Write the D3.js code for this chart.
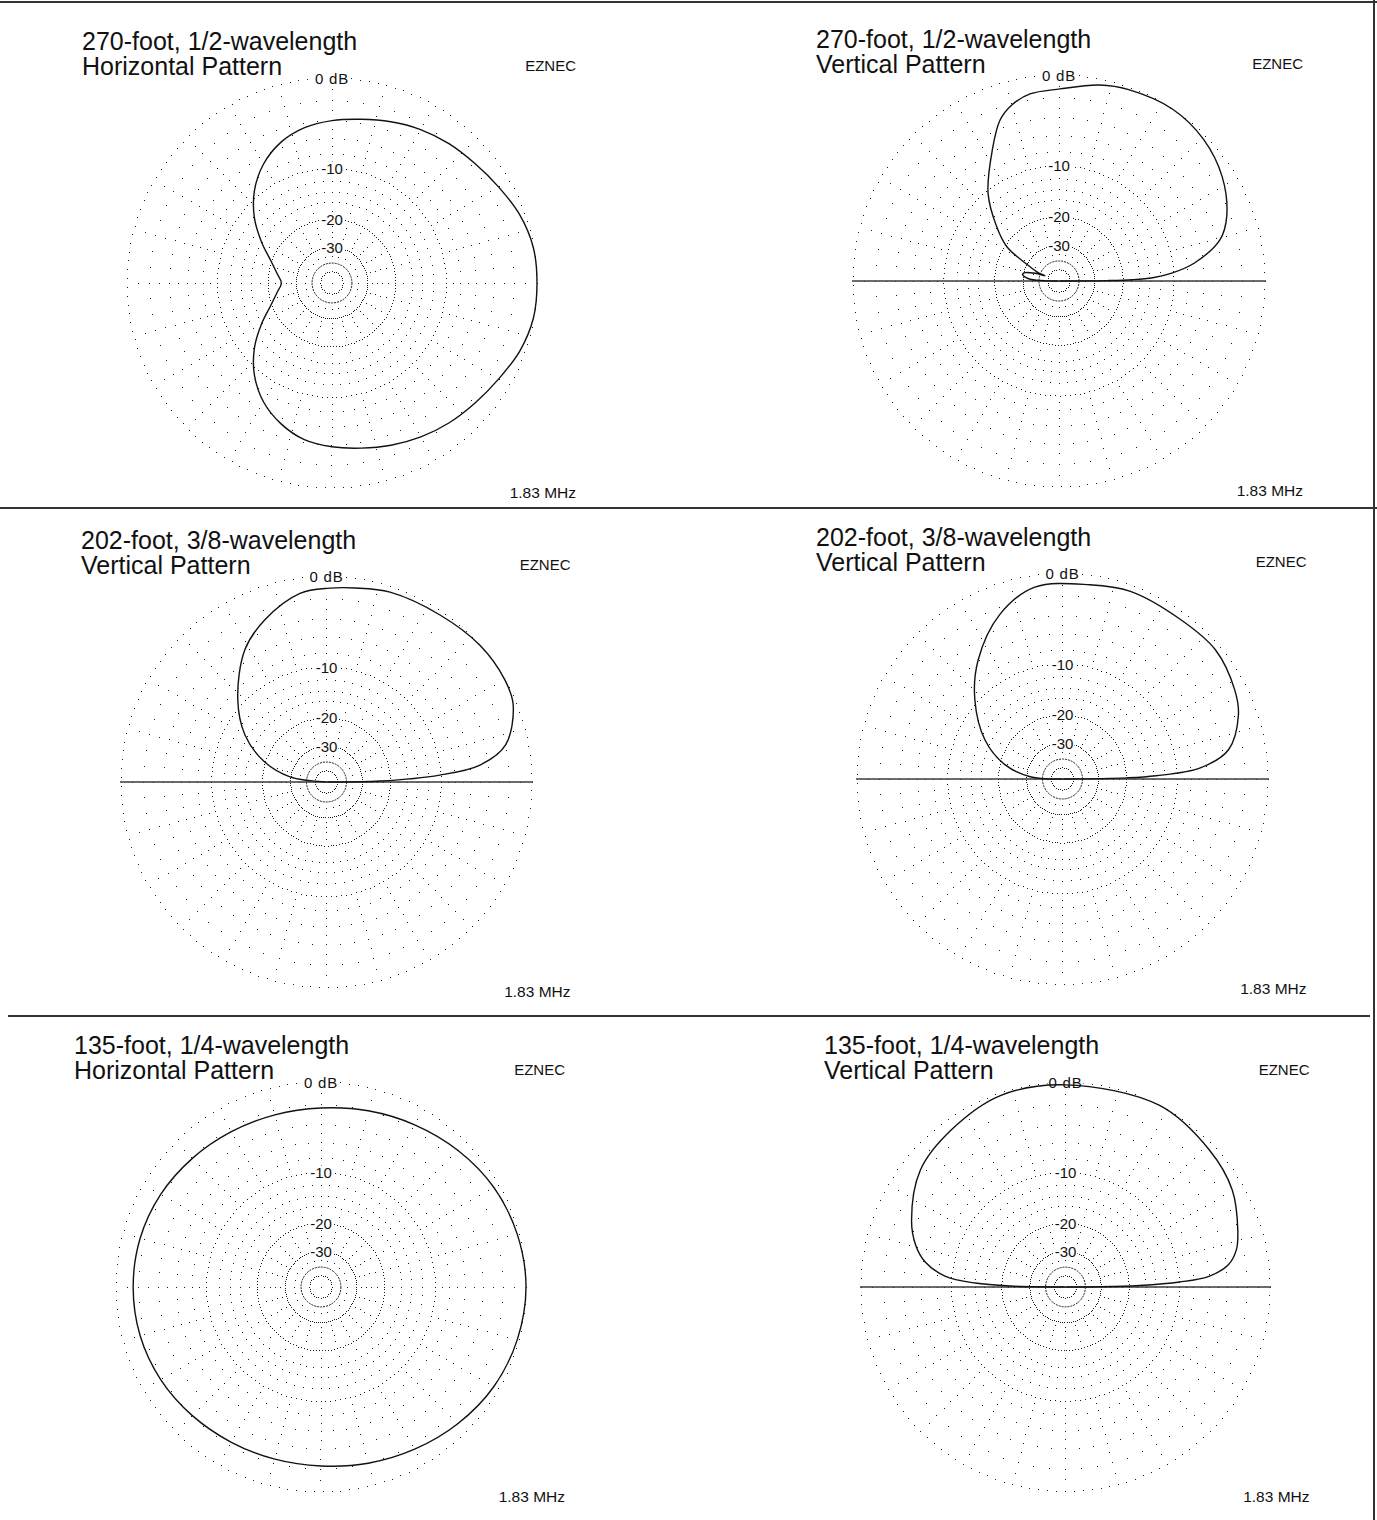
<!DOCTYPE html>
<html>
<head>
<meta charset="utf-8">
<script src="https://cdn.jsdelivr.net/npm/d3@7"></script>
<style>
  body { margin: 0; background: #fff; }
  svg { display: block; }
  text { font-family: "Liberation Sans", Arial, sans-serif; fill: #111; }
</style>
</head>
<body>
<svg id="chart" width="1377" height="1520"></svg>
<script>
// ---- Pattern data (gain in dB, angles in degrees) ----
// Azimuth angles are counter-clockwise from east; elevation angles run
// from the right-hand horizon (0) through zenith (90) to the left horizon (180).

const az270Angles = [0,10,20,30,40,50,60,70,80,90,100,110,120,130,140,150,160,170,
                     180,190,200,210,220,230,240,250,260,270,280,290,300,310,320,330,340,350];
const az270Gain   = [0,-0.05,-0.45,-1.1,-1.65,-2.05,-2.5,-3.05,-3.6,-4.0,-4.5,-5.4,-6.9,-9.1,-12.1,-15.9,-19.7,-22.3,
                     -24.0,-22.3,-19.7,-15.9,-12.1,-9.1,-6.9,-5.4,-4.35,-3.85,-3.45,-2.95,-2.45,-2.0,-1.6,-1.1,-0.45,-0.05];

const el270Angles = [0,0.5,1,2,4,7.5,14.3,21,32.6,44.5,56.5,70,78.3,89.7,98.8,105,110.1,117,129,139,146.7,153.8,
                     158,159.5,162,167,170,174,177,179.5,180];
const el270Gain   = [-99,-25,-17.7,-13.5,-10.3,-7.1,-3.7,-2.35,-1.06,-0.3,0,-0.2,-0.5,-1.2,-1.45,-2.1,-3.15,-5.8,-10.35,-15.7,-20.5,-31.8,
                     -38,-45,-36.2,-29.9,-29.5,-31.4,-34.3,-48,-99];

const el202aAngles = [0,1,3.5,6.3,11.7,22.4,29.7,41.7,55.8,71.5,81.6,89,98,110.8,121.7,137.2,150,162,172,180];
const el202aGain   = [-99,-23,-10.2,-4.9,-2.0,-0.3,0,0,-0.3,-0.45,-0.8,-1.0,-1.3,-2.9,-4.8,-9.1,-13.4,-19.7,-29.5,-99];

const el202bAngles = [0,1,2,4.6,10,20,27.3,40.2,53.5,70.1,82,98.2,110.9,125.4,137.9,153.3,166,176,180];
const el202bGain   = [-99,-20,-13.5,-6.8,-3.4,-1.6,-1.0,-0.45,-0.6,-0.5,-0.8,-1.0,-2.66,-5.9,-9.5,-14.8,-21.3,-31.7,-99];

const az135Angles = [0,15,30,45,60,75,90,105,120,135,150,165,180,195,210,225,240,255,270,285,300,315,330,345];
const az135Gain   = [0,-0.15,-0.47,-1.0,-1.55,-2.0,-2.33,-2.4,-2.3,-2.05,-1.75,-1.55,-1.5,
                     -1.55,-1.75,-2.05,-2.3,-2.4,-2.33,-2.0,-1.55,-1.0,-0.47,-0.15];

const el135Angles = [0,0.3,1.15,2.5,4.35,7.7,12.2,18.3,30.2,43.5,62.6,90,108.8,126.3,141.2,156.6,164.4,169.9,174.8,177.5,179,180];
const el135Gain   = [-99,-30.5,-17.4,-10,-5.95,-3.78,-2.7,-2.05,-1.0,-0.5,0,-0.2,-0.2,-0.9,-1.6,-3.4,-4.7,-6.2,-9.0,-14,-22.4,-99];

// ---- Text ----
const titleLine1 = ["270-foot, 1/2-wavelength", "270-foot, 1/2-wavelength",
                    "202-foot, 3/8-wavelength", "202-foot, 3/8-wavelength",
                    "135-foot, 1/4-wavelength", "135-foot, 1/4-wavelength"];
const titleLine2 = ["Horizontal Pattern", "Vertical Pattern", "Vertical Pattern",
                    "Vertical Pattern", "Horizontal Pattern", "Vertical Pattern"];
const ringLevels = [0, -10, -20, -30, -40, -50];
const ringLabels = ["0 dB", "-10", "-20", "-30"];
const brandLabel = "EZNEC";
const freqLabel = "1.83 MHz";

// ---- Layout ----
const panels = [
  { cx: 332,    cy: 283,  R: 205,   titleX: 82,  kind: "az", angles: az270Angles,  gain: az270Gain },
  { cx: 1059,   cy: 281,  R: 206,   titleX: 816, kind: "el", angles: el270Angles,  gain: el270Gain },
  { cx: 326.5,  cy: 782,  R: 205.5, titleX: 81,  kind: "el", angles: el202aAngles, gain: el202aGain },
  { cx: 1062.5, cy: 779,  R: 205.5, titleX: 816, kind: "el", angles: el202bAngles, gain: el202bGain },
  { cx: 321,    cy: 1287, R: 205,   titleX: 74,  kind: "az", angles: az135Angles,  gain: az135Gain },
  { cx: 1065.5, cy: 1287, R: 204.5, titleX: 824, kind: "el", angles: el135Angles,  gain: el135Gain }
];

// spacing (px) between dots on each dotted ring; the -40 ring is drawn dashed
const ringDotGap = { "0": 8.9, "-10": 5, "-20": 3, "-30": 2.1, "-50": 2.2 };

const svg = d3.select("#chart");

// Page frame and separators
const frame = svg.append("g").attr("stroke", "#333").attr("stroke-width", 2);
frame.append("line").attr("x1", 0).attr("x2", 1377).attr("y1", 2).attr("y2", 2);
frame.append("line").attr("x1", 0).attr("x2", 1377).attr("y1", 508).attr("y2", 508);
frame.append("line").attr("x1", 8).attr("x2", 1370).attr("y1", 1016).attr("y2", 1016);
frame.append("line").attr("x1", 1374).attr("x2", 1374).attr("y1", 0).attr("y2", 1520);

const toRad = d => d * Math.PI / 180;

panels.forEach((p, i) => {
  // ARRL log-periodic radial scale: 0.89 per 2 dB, i.e. r ∝ (power ratio)^0.2531
  const rScale = d3.scalePow().exponent(10 * Math.log(1 / 0.89) / (2 * Math.LN10))
    .domain([0, 1]).range([0, p.R]);
  const r = dB => rScale(Math.pow(10, dB / 10));

  // Grid dots in page coordinates, snapped to whole pixels
  const dots = [];
  const put = (rr, a) => dots.push([Math.floor(p.cx + rr * Math.cos(a)), Math.floor(p.cy - rr * Math.sin(a))]);

  // radial spokes every 5 degrees; 15-degree spokes carry finer steps and reach further in
  for (let a = 0; a < 360; a += 5) {
    const major = a % 15 === 0;
    const levels = major
      ? [-1,-2,-3,-4,-5,-6,-7,-8,-9,-12,-14,-16,-18,-22,-24,-26,-28,-35]
      : [-2,-4,-6,-8,-12,-14,-16];
    levels.forEach(l => put(r(l), toRad(a)));
  }
  // dotted rings
  ringLevels.forEach(l => {
    const gap = ringDotGap[String(l)];
    if (!gap) return;
    const rr = r(l);
    const n = Math.round(2 * Math.PI * rr / gap);
    for (let k = 0; k < n; k++) put(rr, 2 * Math.PI * k / n);
  });
  dots.push([Math.floor(p.cx), Math.floor(p.cy)]);

  svg.append("g").attr("fill", "#1a1a1a").attr("shape-rendering", "crispEdges")
    .selectAll("rect").data(dots).join("rect")
    .attr("x", d => d[0]).attr("y", d => d[1])
    .attr("width", 1).attr("height", 1);

  const g = svg.append("g").attr("transform", `translate(${p.cx},${p.cy})`);

  // dashed -40 dB ring
  g.append("circle").attr("r", r(-40)).attr("fill", "none")
    .attr("stroke", "#1a1a1a").attr("stroke-width", 1).attr("stroke-dasharray", "2,1");

  // Ring labels on a white backing
  const lab = g.append("g").selectAll("g").data(ringLabels).join("g")
    .attr("transform", (d, k) => `translate(0,${-r(ringLevels[k])})`);
  lab.append("rect")
    .attr("x", d => d === "0 dB" ? -18 : -12)
    .attr("y", -7).attr("width", d => d === "0 dB" ? 36 : 24).attr("height", 13)
    .attr("fill", "#fff");
  lab.append("text").attr("text-anchor", "middle").attr("y", 5.5)
    .attr("font-size", 15).attr("letter-spacing", d => d === "0 dB" ? 0.8 : 0).text(d => d);

  // Ground line for elevation plots
  if (p.kind === "el") {
    g.append("line").attr("x1", -p.R - 1).attr("x2", p.R + 1).attr("y1", 0).attr("y2", 0)
      .attr("stroke", "#3a3a3a").attr("stroke-width", 1.6);
  }

  // Pattern trace
  const pts = p.angles.map((a, k) => [a, p.gain[k]]);
  const line = d3.lineRadial()
    .angle(d => toRad(90 - d[0]))
    .radius(d => r(d[1]))
    .curve(p.kind === "az" ? d3.curveCatmullRomClosed.alpha(0.5) : d3.curveCatmullRom.alpha(0.5));
  g.append("path").attr("d", line(pts))
    .attr("fill", "none").attr("stroke", "#111").attr("stroke-width", 1.4)
    .attr("stroke-linejoin", "round");

  // Titles and annotations
  svg.append("text").attr("x", p.titleX).attr("y", p.cy - 233.5)
    .attr("font-size", 25).text(titleLine1[i]);
  svg.append("text").attr("x", p.titleX).attr("y", p.cy - 208)
    .attr("font-size", 25).text(titleLine2[i]);
  svg.append("text").attr("x", p.cx + 244).attr("y", p.cy - 212)
    .attr("text-anchor", "end").attr("font-size", 15).text(brandLabel);
  svg.append("text").attr("x", p.cx + 244).attr("y", p.cy + 215)
    .attr("text-anchor", "end").attr("font-size", 15.5).text(freqLabel);
});
</script>
</body>
</html>
